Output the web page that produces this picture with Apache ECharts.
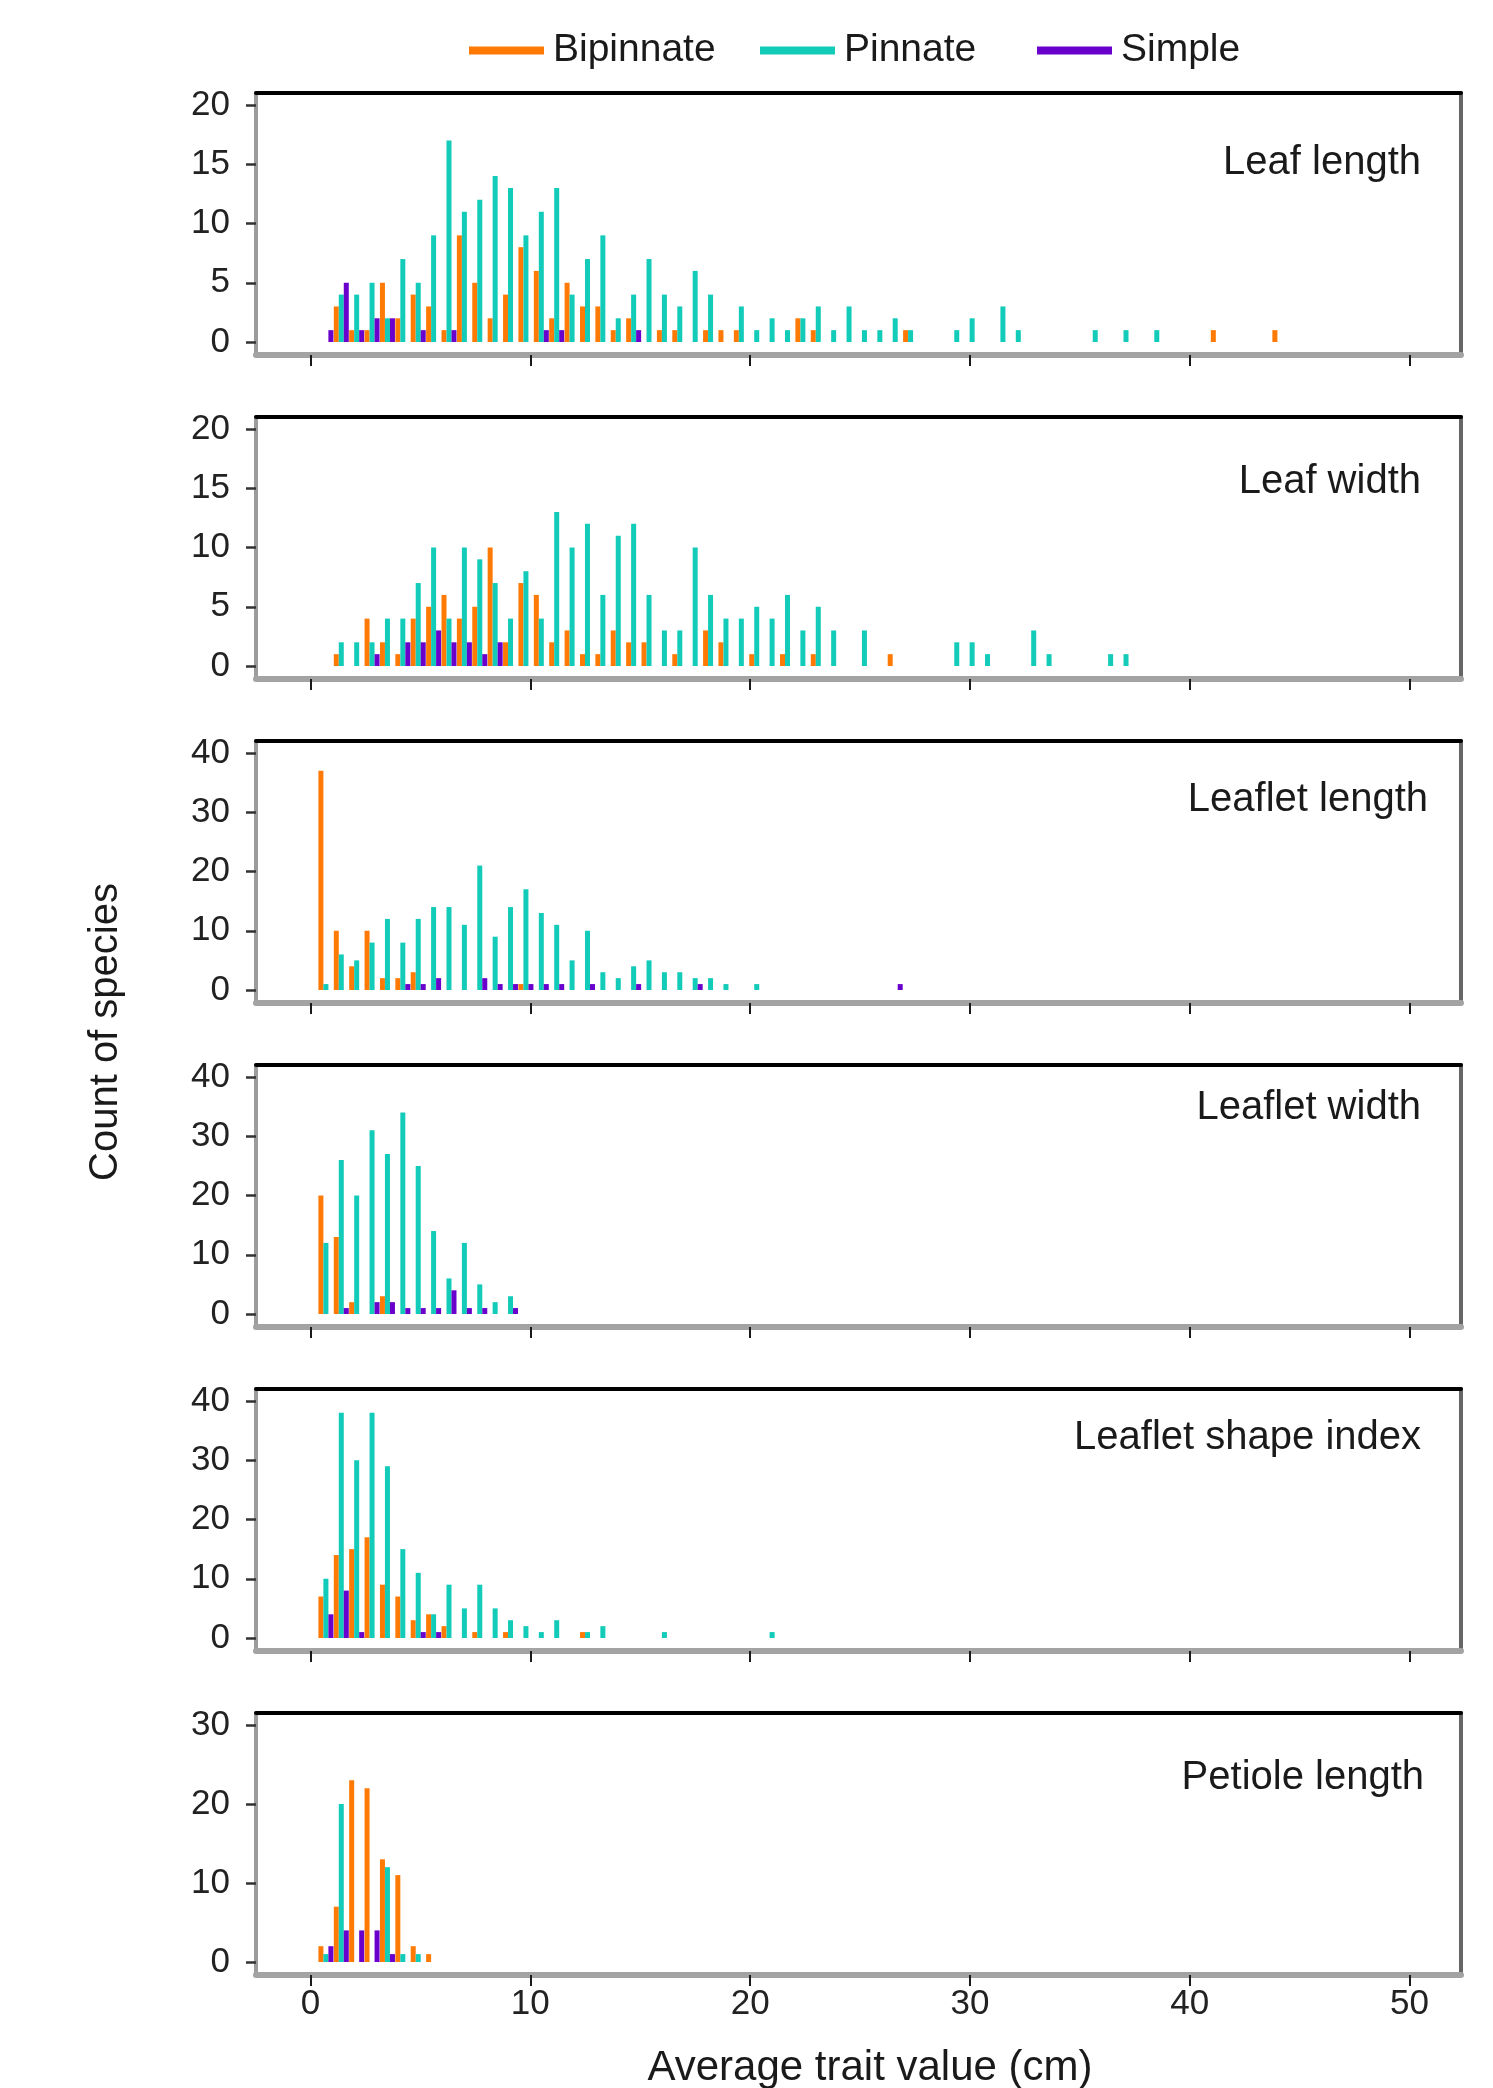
<!DOCTYPE html>
<html>
<head>
<meta charset="utf-8">
<script src="https://cdn.jsdelivr.net/npm/echarts@6/dist/echarts.min.js"></script>
<style>
html,body{margin:0;padding:0;background:#fff;overflow:hidden}
#chart{width:1493px;height:2088px}
</style>
</head>
<body>
<div id="chart"></div>
<script>
// ---------------- DATA ----------------
const seriesNames = ['Bipinnate', 'Pinnate', 'Simple'];
const panelTitles = ['Leaf length', 'Leaf width', 'Leaflet length', 'Leaflet width', 'Leaflet shape index', 'Petiole length'];
const xTicks = [0, 10, 20, 30, 40, 50];
const yTicksLeafLength = [0, 5, 10, 15, 20];
const yTicksLeafWidth = [0, 5, 10, 15, 20];
const yTicksLeafletLength = [0, 10, 20, 30, 40];
const yTicksLeafletWidth = [0, 10, 20, 30, 40];
const yTicksLeafletShape = [0, 10, 20, 30, 40];
const yTicksPetiole = [0, 10, 20, 30];

// histogram bin centres (cm); count arrays below are indexed the same way
const binCenters = [0.7, 1.4, 2.1, 2.8, 3.5, 4.2, 4.9, 5.6, 6.3, 7.0,
  7.7, 8.4, 9.1, 9.8, 10.5, 11.2, 11.9, 12.6, 13.3, 14.0,
  14.7, 15.4, 16.1, 16.8, 17.5, 18.2, 18.9, 19.6, 20.3, 21.0,
  21.7, 22.4, 23.1, 23.8, 24.5, 25.2, 25.9, 26.6, 27.3, 28.0,
  28.7, 29.4, 30.1, 30.8, 31.5, 32.2, 32.9, 33.6, 34.3, 35.0,
  35.7, 36.4, 37.1, 37.8, 38.5, 39.2, 39.9, 40.6, 41.3, 42.0,
  42.7, 43.4, 44.1];

const leafLengthBipinnate = [0,3,1,1,5,2,4,3,1,9, 5,2,4,8,6,2,5,3,3,1, 2,0,1,1,0,1,1,1,0,0, 0,2,1,0,0,0,0,0,1,0, 0,0,0,0,0,0,0,0,0,0, 0,0,0,0,0,0,0,0,1,0, 0,0,1];
const leafLengthPinnate = [0,4,4,5,2,7,5,9,17,11, 12,14,13,9,11,13,4,7,9,2, 4,7,4,3,6,4,0,3,1,2, 1,2,3,1,3,1,1,2,1,0, 0,1,2,0,3,1,0,0,0,0, 1,0,1,0,1];
const leafLengthSimple = [1,5,1,2,2,0,1,0,1,0, 0,0,0,0,1,1,0,0,0,0, 1];

const leafWidthBipinnate = [0,1,0,4,2,1,4,5,6,4, 5,10,2,7,6,2,3,1,1,3, 2,2,0,1,0,3,2,0,1,0, 1,0,1,0,0,0,0,1];
const leafWidthPinnate = [0,2,2,2,4,4,7,10,4,10, 9,7,4,8,4,13,10,12,6,11, 12,6,3,3,10,6,4,4,5,4, 6,3,5,3,0,3,0,0,0,0, 0,2,2,1,0,0,3,1,0,0, 0,1,1];
const leafWidthSimple = [0,0,0,1,0,2,2,3,2,2, 1,2];

const leafletLengthBipinnate = [37,10,4,10,2,2,3,0,0,0, 0,0,0,1];
const leafletLengthPinnate = [1,6,5,8,12,8,12,14,14,11, 21,9,14,17,13,11,5,10,3,2, 4,5,3,3,2,2,1,0,1];
const leafletLengthSimple = [0,0,0,0,0,1,1,2,0,0, 2,1,1,1,1,1,0,1,0,0, 1,0,0,0,1,0,0,0,0,0, 0,0,0,0,0,0,0,1];

const leafletWidthBipinnate = [20,13,2,0,3];
const leafletWidthPinnate = [12,26,20,31,27,34,25,14,6,12, 5,2,3];
const leafletWidthSimple = [0,1,0,2,2,1,1,1,4,1, 1,0,1];

const leafletShapeBipinnate = [7,14,15,17,9,7,3,4,2,0, 1,0,1,0,0,0,0,1];
const leafletShapePinnate = [10,38,30,38,29,15,11,4,9,5, 9,5,3,2,1,3,0,1,2,0, 0,0,1,0,0,0,0,0,0,1];
const leafletShapeSimple = [4,8,1,0,0,0,1,1];

const petioleBipinnate = [2,7,23,22,13,11,2,1];
const petiolePinnate = [1,20,0,0,12,1,1];
const petioleSimple = [2,4,4,4,1];

// ---------------- LAYOUT / STYLE ----------------
const panels = [
  { counts: [leafLengthBipinnate, leafLengthPinnate, leafLengthSimple], yTicks: yTicksLeafLength, titleX: 1421, titleY: 163 },
  { counts: [leafWidthBipinnate, leafWidthPinnate, leafWidthSimple], yTicks: yTicksLeafWidth, titleX: 1421, titleY: 482 },
  { counts: [leafletLengthBipinnate, leafletLengthPinnate, leafletLengthSimple], yTicks: yTicksLeafletLength, titleX: 1428, titleY: 800 },
  { counts: [leafletWidthBipinnate, leafletWidthPinnate, leafletWidthSimple], yTicks: yTicksLeafletWidth, titleX: 1421, titleY: 1108 },
  { counts: [leafletShapeBipinnate, leafletShapePinnate, leafletShapeSimple], yTicks: yTicksLeafletShape, titleX: 1421, titleY: 1438 },
  { counts: [petioleBipinnate, petiolePinnate, petioleSimple], yTicks: yTicksPetiole, titleX: 1424, titleY: 1778 }
];
const colors = ['#ff7a05', '#12cbb9', '#6a00cc'];
const FONT = '"Liberation Sans", Arial, Helvetica, sans-serif';
const gridLeft = 256, gridRight = 32, firstTop = 93, panelStep = 324, gridH = 262;
const tickTopOffset = 12, zeroOffset = 249;
const xMin = -2.48, xMax = 52.34;

const grids = [], xAxes = [], yAxes = [], series = [], graphics = [];

panels.forEach((p, i) => {
  const top = firstTop + i * panelStep;
  grids.push({ left: gridLeft, right: gridRight, top: top, height: gridH });
  const M = p.yTicks[p.yTicks.length - 1];
  const ppu = (zeroOffset - tickTopOffset) / M;
  const yMin = -(gridH - zeroOffset) / ppu;
  const yMax = M + tickTopOffset / ppu;

  xAxes.push({
    gridIndex: i, type: 'value', min: xMin, max: xMax, position: 'bottom',
    axisLine: { show: true, onZero: false, lineStyle: { color: '#a3a3a3', width: 6 } },
    axisTick: { show: true, customValues: xTicks, length: 11, lineStyle: { color: '#1a1a1a', width: 2 } },
    axisLabel: { show: i === panels.length - 1, customValues: xTicks, fontSize: 35, fontFamily: FONT, color: '#222', margin: 12 },
    splitLine: { show: false }
  });
  xAxes.push({
    gridIndex: i, type: 'value', min: xMin, max: xMax, position: 'top',
    axisLine: { show: true, onZero: false, lineStyle: { color: '#000', width: 4 } },
    axisTick: { show: false }, axisLabel: { show: false }, splitLine: { show: false }
  });
  yAxes.push({
    gridIndex: i, type: 'value', min: yMin, max: yMax, position: 'left',
    axisLine: { show: true, onZero: false, lineStyle: { color: '#9c9c9c', width: 4 } },
    axisTick: { show: true, customValues: p.yTicks, length: 10, lineStyle: { color: '#333', width: 2.5 } },
    axisLabel: { show: true, customValues: p.yTicks, fontSize: 35, fontFamily: FONT, color: '#222', margin: 26 },
    splitLine: { show: false }
  });
  yAxes.push({
    gridIndex: i, type: 'value', min: yMin, max: yMax, position: 'right',
    axisLine: { show: true, onZero: false, lineStyle: { color: '#666', width: 4 } },
    axisTick: { show: false }, axisLabel: { show: false }, splitLine: { show: false }
  });

  p.counts.forEach((arr, s) => {
    series.push({
      type: 'bar', name: seriesNames[s],
      xAxisIndex: 2 * i, yAxisIndex: 2 * i,
      barWidth: 5, barGap: '0%',
      itemStyle: { color: colors[s] },
      data: arr.map((v, j) => [binCenters[j], v]).filter(d => d[1] > 0),
      animation: false
    });
  });

  graphics.push({
    type: 'text', x: p.titleX, y: p.titleY,
    style: { text: panelTitles[i], textAlign: 'right', textVerticalAlign: 'middle', font: '40px ' + FONT, fill: '#1a1a1a' }
  });
});

graphics.push({
  type: 'text', x: 106, y: 1032, rotation: Math.PI / 2,
  style: { text: 'Count of species', textAlign: 'center', textVerticalAlign: 'middle', font: '40px ' + FONT, fill: '#1a1a1a' }
});
graphics.push({
  type: 'text', x: 870, y: 2068,
  style: { text: 'Average trait value (cm)', textAlign: 'center', textVerticalAlign: 'middle', font: '42px ' + FONT, fill: '#1a1a1a' }
});

const legendLefts = [469, 760, 1037];
const legends = seriesNames.map((n, s) => ({
  data: [n], left: legendLefts[s], top: 31, padding: 0,
  itemWidth: 75, itemHeight: 8, icon: 'rect', selectedMode: false,
  textStyle: { fontSize: 39, fontFamily: FONT, color: '#1a1a1a', padding: [0, 0, 0, 4] }
}));

const chart = echarts.init(document.getElementById('chart'), null, { renderer: 'canvas' });
chart.setOption({
  animation: false,
  backgroundColor: '#fff',
  legend: legends,
  grid: grids,
  xAxis: xAxes,
  yAxis: yAxes,
  series: series,
  graphic: graphics
});
</script>
</body>
</html>
